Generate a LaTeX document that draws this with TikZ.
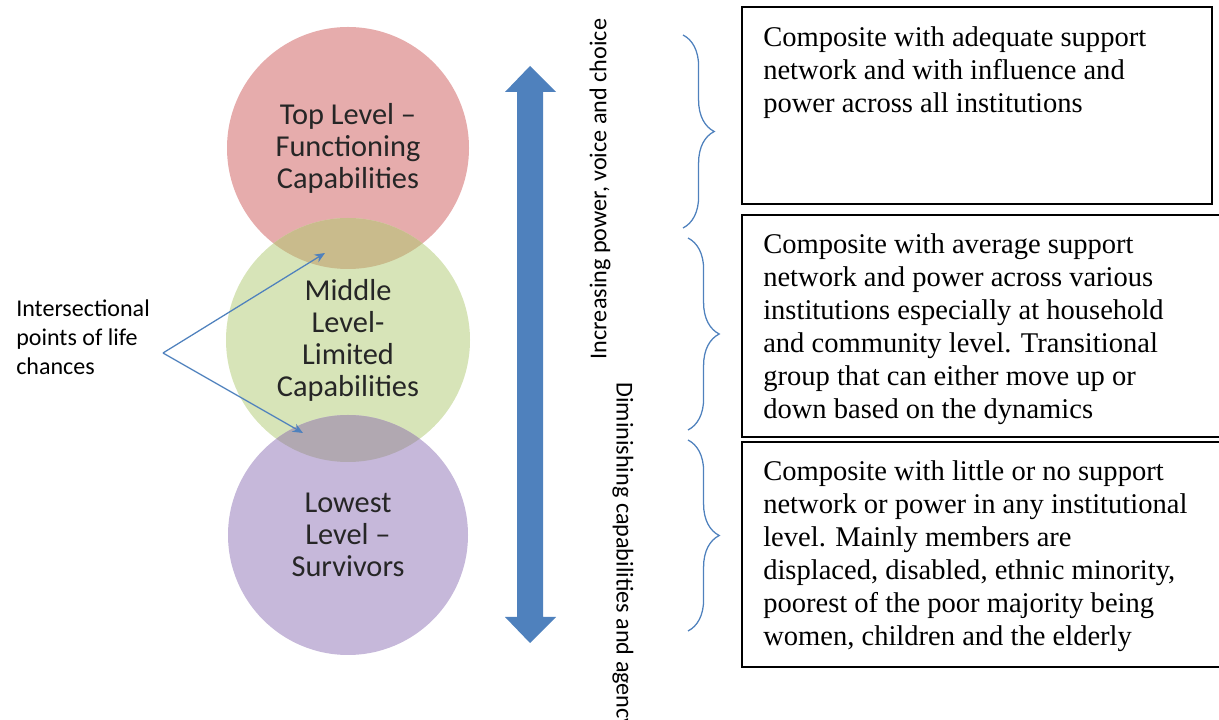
\documentclass[tikz,border=0pt]{standalone}
\usepackage{fontspec}
\setmainfont{Liberation Serif}
\newfontfamily\calibri{Carlito}
\usetikzlibrary{arrows.meta,decorations.pathreplacing}
\definecolor{toppink}{RGB}{230,172,172}
\definecolor{midgreen}{RGB}{215,228,184}
\definecolor{lowpurple}{RGB}{198,184,218}
\definecolor{lenskhaki}{RGB}{201,187,140}
\definecolor{lensgrey}{RGB}{177,168,177}
\definecolor{officeblue}{RGB}{79,129,189}
\begin{document}
\begin{tikzpicture}[x=0.025cm,y=-0.025cm,
  level/.style={font=\calibri\fontsize{21.6}{22.8}\selectfont,align=center,text=black!85},
  desc/.style={font=\fontsize{20.3}{23.5}\selectfont,align=left,anchor=north west,inner sep=0pt},
  descbox/.style={draw,line width=1.4pt},
  bracket/.style={draw=officeblue,line width=0.9pt,decorate,decoration={brace,amplitude=0.78cm}},
  pointer/.style={draw=officeblue,line width=0.9pt,-{Stealth[length=2.6mm,width=2.2mm]}},
  sidetext/.style={font=\calibri\fontsize{17.2}{19}\selectfont,inner sep=0pt}]
\useasboundingbox (0,0) rectangle (1219,720);
\clip (0,0) rectangle (1219,720);
\coordinate (ctop) at (348,148);
\coordinate (cmid) at (348,340);
\coordinate (clow) at (348,535);
\fill[toppink] (ctop) circle (121);
\fill[midgreen] (cmid) circle (122);
\fill[lowpurple] (clow) circle (120);
\begin{scope}
\clip (ctop) circle (121);
\fill[lenskhaki] (cmid) circle (122);
\end{scope}
\begin{scope}
\clip (cmid) circle (122);
\fill[lensgrey] (clow) circle (120);
\end{scope}
\node[level] (top) at (ctop) {Top Level –\\Functioning\\Capabilities};
\node[level] (middle) at (cmid) {Middle\\Level-\\Limited\\Capabilities};
\node[level] (lowest) at (clow) {Lowest\\Level –\\Survivors};
\fill[officeblue] (517,92) -- (505,92) -- (530,66) -- (556,92) -- (543,92) -- (543,617)
  -- (556,617) -- (530,643) -- (505,617) -- (517,617) -- cycle;
\node[sidetext,rotate=90] (rise) at (600,189) {Increasing power, voice and choice};
\node[sidetext,rotate=-90,anchor=west] (fall) at (623,382) {Diminishing capabilities and agency};
\draw[bracket] (683,35) -- (683,228);
\draw[bracket] (688,238) -- (688,430);
\draw[bracket] (688,440) -- (688,631);
\draw[descbox] (742,7) rectangle (1212,204);
\draw[descbox] (742,215) rectangle (1240,437);
\draw[descbox] (742,442) rectangle (1240,667);
\node[desc] (high) at (763,26) {Composite with adequate support\\network and with influence and\\power across all institutions};
\node[desc] (average) at (763,233) {Composite with average support\\network and power across various\\institutions especially at household\\and community level. Transitional\\group that can either move up or\\down based on the dynamics};
\node[desc] (little) at (763,460) {Composite with little or no support\\network or power in any institutional\\level. Mainly members are\\displaced, disabled, ethnic minority,\\poorest of the poor majority being\\women, children and the elderly};
\node[font=\calibri\fontsize{17.1}{20.3}\selectfont,align=left,anchor=north west,inner sep=0pt] (chances) at (16,300) {Intersectional\\points of life\\chances};
\coordinate (apex) at (163,353);
\coordinate (lensup) at (325,253);
\coordinate (lenslow) at (303,433);
\draw[pointer] (apex) -- (lensup);
\draw[pointer] (apex) -- (lenslow);
\end{tikzpicture}
\end{document}
